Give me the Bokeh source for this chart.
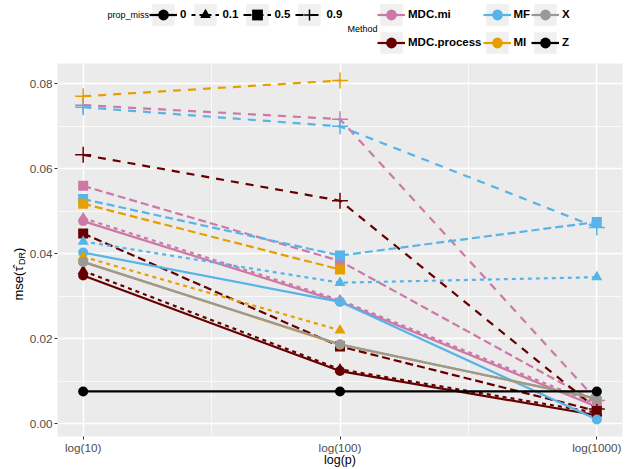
import numpy as np
from math import pi
from bokeh.plotting import figure
from bokeh.layouts import column, row
from bokeh.models import (FixedTicker, Legend, LegendItem, Label, Range1d,
                          NumeralTickFormatter)
from bokeh.embed import file_html
from bokeh.resources import INLINE

# ---------------- data ----------------
p_values = [10, 100, 1000]
x_ticks = [1, 2, 3]
x_tick_labels = ["log(10)", "log(100)", "log(1000)"]
y_ticks = [0.0, 0.02, 0.04, 0.06, 0.08]

methods = ["MDC.mi", "MDC.process", "MF", "MI", "X", "Z"]
prop_miss = ["0", "0.1", "0.5", "0.9"]

mdc_mi_0 = [0.0477, 0.0287, 0.0040]
mdc_mi_01 = [0.0484, 0.0291, 0.0046]
mdc_mi_05 = [0.0560, 0.0383, 0.0050]
mdc_mi_09 = [0.0750, 0.0717, 0.0055]

mdc_process_0 = [0.0349, 0.0124, 0.0020]
mdc_process_01 = [0.0360, 0.0128, 0.0026]
mdc_process_05 = [0.0448, 0.0182, 0.0030]
mdc_process_09 = [0.0633, 0.0525, 0.0035]

mf_0 = [0.0403, 0.0287, 0.0010]
mf_01 = [0.0429, 0.0332, 0.0345]
mf_05 = [0.0529, 0.0396, 0.0475]
mf_09 = [0.0745, 0.0700, 0.0462]

mi_0 = [0.0381, 0.0186, 0.0059]
mi_01 = [0.0393, 0.0220, None]
mi_05 = [0.0518, 0.0363, None]
mi_09 = [0.0771, 0.0808, None]

x_0 = [0.0381, 0.0187, 0.0059]
z_0 = [0.0076, 0.0076, 0.0076]

series = [
    ("MDC.mi", "0", mdc_mi_0), ("MDC.mi", "0.1", mdc_mi_01),
    ("MDC.mi", "0.5", mdc_mi_05), ("MDC.mi", "0.9", mdc_mi_09),
    ("MDC.process", "0", mdc_process_0), ("MDC.process", "0.1", mdc_process_01),
    ("MDC.process", "0.5", mdc_process_05), ("MDC.process", "0.9", mdc_process_09),
    ("MF", "0", mf_0), ("MF", "0.1", mf_01), ("MF", "0.5", mf_05), ("MF", "0.9", mf_09),
    ("MI", "0", mi_0), ("MI", "0.1", mi_01), ("MI", "0.5", mi_05), ("MI", "0.9", mi_09),
    ("X", "0", x_0), ("Z", "0", z_0),
]

# ---------------- styles ----------------
colors = {"MDC.mi": "#CC79A7", "MDC.process": "#660000", "MF": "#56B4E9",
          "MI": "#E69F00", "X": "#999999", "Z": "#000000"}
markers = {"0": "circle", "0.1": "triangle", "0.5": "square", "0.9": "cross"}
msizes = {"0": 10, "0.1": 11, "0.5": 10, "0.9": 16}
dashes = {"0": "solid", "0.1": "4 4", "0.5": "8 4", "0.9": "8 7"}
LW = 2.2
FONT = "Liberation Sans"
NAN = float("nan")

LEG_H = 63          # legend strip on top
YLAB_W = 26         # strip holding the y-axis title
LEFT, RIGHT = 31, 7
FW = 565
MAIN_H = 406

# ---------------- main plot ----------------
p = figure(width=LEFT + FW + RIGHT, height=MAIN_H, x_range=Range1d(0.9, 3.1),
           y_range=Range1d(-0.003, 0.0848), output_backend="svg",
           toolbar_location=None, min_border_top=0, min_border_bottom=0,
           min_border_left=LEFT, min_border_right=RIGHT)
p.background_fill_color = "#EBEBEB"
p.border_fill_color = "white"
p.outline_line_color = None

for g in (p.xgrid, p.ygrid):
    g.grid_line_color = "white"
    g.grid_line_width = 1.4
    g.minor_grid_line_color = "white"
    g.minor_grid_line_width = 0.7

p.xaxis.ticker = FixedTicker(ticks=x_ticks, minor_ticks=[1.5, 2.5])
p.xaxis.major_label_overrides = {t: l for t, l in zip(x_ticks, x_tick_labels)}
p.yaxis.ticker = FixedTicker(ticks=y_ticks, minor_ticks=[0.01, 0.03, 0.05, 0.07])
p.yaxis.formatter = NumeralTickFormatter(format="0.00")

for ax in (p.xaxis, p.yaxis):
    ax.axis_line_color = None
    ax.major_tick_line_color = "#333333"
    ax.major_tick_in = 0
    ax.major_tick_out = 3
    ax.minor_tick_line_color = None
    ax.major_label_text_color = "#4D4D4D"
    ax.major_label_text_font = FONT
    ax.major_label_text_font_size = "11.7px"
    ax.major_label_standoff = 1
p.xaxis.major_label_standoff = 0
p.xaxis.axis_label = "log(p)"
p.xaxis.axis_label_text_font = FONT
p.xaxis.axis_label_text_font_size = "12.5px"
p.xaxis.axis_label_text_font_style = "normal"
p.xaxis.axis_label_text_color = "black"
p.xaxis.axis_label_standoff = -4

def clean(vals):
    xs, ys = [], []
    for pv, v in zip(p_values, vals):
        if v is not None:
            xs.append(float(np.log10(pv)))
            ys.append(v)
    return xs, ys

for m, pm, vals in series:
    xs, ys = clean(vals)
    p.line(xs, ys, line_color=colors[m], line_width=LW, line_dash=dashes[pm])

for m, pm, vals in series:
    xs, ys = clean(vals)
    if markers[pm] == "cross":
        p.scatter(xs, ys, marker="cross", size=msizes[pm], line_color=colors[m],
                  line_width=1.5)
    else:
        p.scatter(xs, ys, marker=markers[pm], size=msizes[pm], fill_color=colors[m],
                  line_color=None)

# ---------------- legend strip ----------------
TOTAL_W = YLAB_W + LEFT + FW + RIGHT
lg = figure(width=TOTAL_W, height=LEG_H, x_range=Range1d(0, 1), y_range=Range1d(0, 1),
            output_backend="svg", toolbar_location=None, min_border=0,
            x_axis_location=None, y_axis_location=None)
lg.grid.visible = False
lg.outline_line_color = None
lg.background_fill_color = "white"
lg.border_fill_color = "white"

# legend-key renderers (NaN data: nothing drawn in the strip itself)
def key_bg():
    return lg.quad(left=[NAN], right=[NAN], top=[NAN], bottom=[NAN],
                   fill_color="#F0F0F0", line_color=None)

items1 = []
for pm in prop_miss:
    bg = key_bg()
    ln = lg.line([NAN, NAN], [NAN, NAN], line_color="black", line_width=LW,
                 line_dash=dashes[pm])
    if markers[pm] == "cross":
        mk = lg.scatter([NAN], [NAN], marker="cross", line_color="black", line_width=1.5)
    else:
        mk = lg.scatter([NAN], [NAN], marker=markers[pm], fill_color="black",
                        line_color=None)
    items1.append(LegendItem(label=pm, renderers=[bg, ln, mk]))

items2 = []
for m in methods:
    bg = key_bg()
    ln = lg.line([NAN, NAN], [NAN, NAN], line_color=colors[m], line_width=LW)
    mk = lg.scatter([NAN], [NAN], marker="circle", fill_color=colors[m], line_color=None)
    items2.append(LegendItem(label=m, renderers=[bg, ln, mk]))

common = dict(glyph_width=28, glyph_height=27, label_height=27, label_width=4,
              label_standoff=3, spacing=5, padding=0, margin=0,
              border_line_color=None, background_fill_alpha=0,
              label_text_font=FONT, label_text_font_style="bold",
              label_text_font_size="11.5px", label_text_color="black")

leg1 = Legend(items=items1, orientation="horizontal",
              location=(149, LEG_H - 27.6), **common)
leg2 = Legend(items=items2, orientation="vertical", nrows=2,
              location=(377, LEG_H - 55.6), **common)
leg2.spacing = 1
lg.add_layout(leg1)
lg.add_layout(leg2)

title_style = dict(x_units="screen", y_units="screen", text_font=FONT,
                   text_font_size="9px", text_color="black",
                   text_baseline="middle", text_align="left")
lg.add_layout(Label(x=107, y=LEG_H - 14, text="prop_miss", **title_style))
lg.add_layout(Label(x=347, y=LEG_H - 28, text="Method", **title_style))

# ---------------- y-axis title strip: mse(tau-hat_DR) ----------------
yl = figure(width=YLAB_W, height=MAIN_H, x_range=Range1d(0, 1), y_range=Range1d(0, 1),
            output_backend="svg", toolbar_location=None, min_border=0,
            x_axis_location=None, y_axis_location=None)
yl.grid.visible = False
yl.outline_line_color = None
yl.background_fill_color = "white"
yl.border_fill_color = "white"

ylab = dict(x_units="screen", y_units="screen", text_font=FONT, text_color="black",
            angle=pi / 2, text_baseline="middle", text_align="left")
yc = 162
yl.add_layout(Label(x=17.5, y=yc - 26, text="mse(\u03c4\u0302",
                    text_font_size="13px", **ylab))
yl.add_layout(Label(x=21.5, y=yc + 9.5, text="DR", text_font_size="9px", **ylab))
yl.add_layout(Label(x=17.5, y=yc + 22.5, text=")", text_font_size="13px", **ylab))

layout = column(lg, row(yl, p, spacing=0), spacing=0)
open("out.html", "w").write(file_html(layout, INLINE))
